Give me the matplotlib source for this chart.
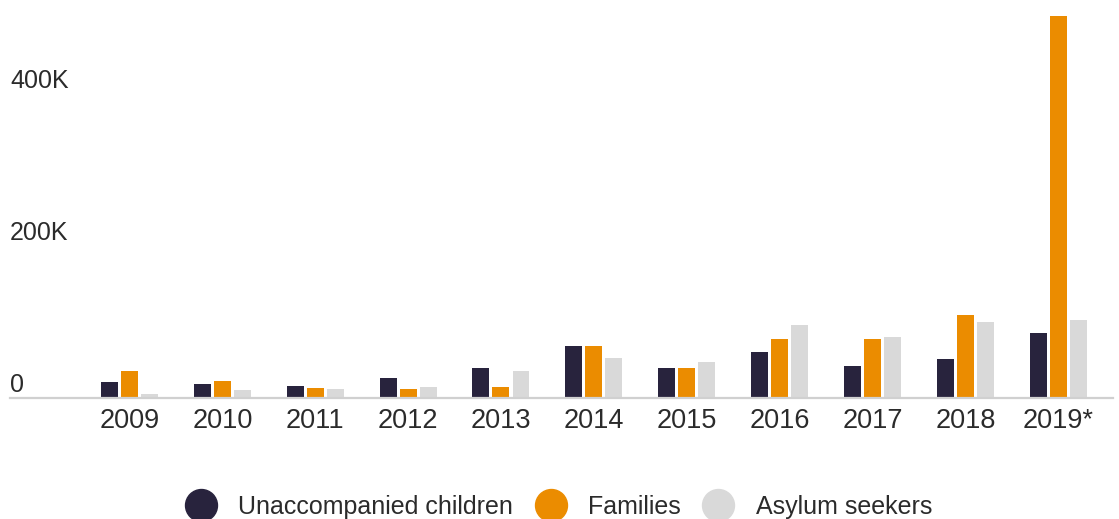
import matplotlib.pyplot as plt
import numpy as np
from matplotlib.lines import Line2D
from matplotlib.transforms import offset_copy, blended_transform_factory

years = ["2009", "2010", "2011", "2012", "2013", "2014", "2015", "2016", "2017", "2018", "2019*"]
unaccompanied = [20.5, 18.5, 16, 25.8, 39, 69, 40, 60, 41.5, 51, 85]
families = [36, 23, 12.7, 11.3, 15, 69, 40, 78, 77, 109, 502]
asylum = [5.7, 10, 11.3, 14, 36, 52, 48, 95.5, 80, 99.5, 102]

series = ["Unaccompanied children", "Families", "Asylum seekers"]
colors = ["#28233d", "#eb8c00", "#d9d9d9"]
yticks = [0, 200, 400]
ytick_labels = ["0", "200K", "400K"]

plt.rcParams['font.family'] = ['Liberation Sans', 'DejaVu Sans']
text_color = "#2b2b2b"

fig = plt.figure(figsize=(11.19, 5.19), dpi=100)
W, H = 1119, 519
ax = fig.add_axes([10 / W, (H - 398) / H, (1113 - 10) / W, 398 / H])

x = np.arange(len(years))
bw = 0.183
step = 0.2154
for k, (vals, c) in enumerate(zip([unaccompanied, families, asylum], colors)):
    ax.bar(x + (k - 1) * step, vals, width=bw, color=c, zorder=2)

ax.set_xlim(-1.287, 10.59)
ax.set_ylim(0, 523.7)

for s in ["top", "right", "left"]:
    ax.spines[s].set_visible(False)
ax.spines["bottom"].set_color("#d0d0d0")
ax.spines["bottom"].set_linewidth(1.6)
ax.spines["bottom"].set_zorder(3)

ax.set_yticks([])
ax.set_xticks(x)
ax.set_xticklabels(years, fontsize=19.5, color=text_color)
ax.tick_params(axis="x", length=0, pad=7)

trans = offset_copy(blended_transform_factory(ax.transAxes, ax.transData),
                    fig=fig, x=0, y=6, units="dots")
for v, lab in zip(yticks, ytick_labels):
    ax.text(0, v, lab, transform=trans, ha="left", va="baseline",
            fontsize=18, color=text_color)

handles = [Line2D([], [], marker="o", linestyle="none", markersize=23,
                  markerfacecolor=c, markeredgecolor=c) for c in colors]
fig.legend(handles, series, loc="center", bbox_to_anchor=(0.495, (H - 507) / H),
           ncol=3, frameon=False, fontsize=18, handletextpad=0.5,
           columnspacing=0.5, labelcolor=text_color)

fig.savefig("out.png", dpi=100)
